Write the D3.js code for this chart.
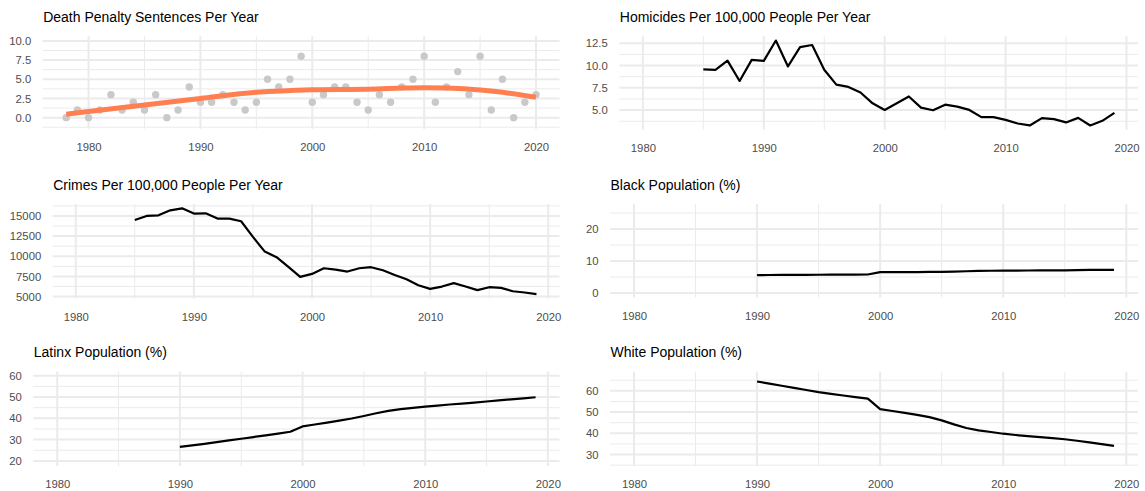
<!DOCTYPE html>
<html><head><meta charset="utf-8">
<script src="https://cdn.jsdelivr.net/npm/d3@7"></script>
<style>
body{margin:0;background:#fff}
svg{display:block;font-family:"Liberation Sans",Arial,Helvetica,sans-serif}
</style>
</head><body>
<svg id="chart" width="1145" height="491"></svg>
<script>
// ---------------- DATA ----------------
const xTicks = [1980, 1990, 2000, 2010, 2020];

const deathYears = [1978,1979,1980,1981,1982,1983,1984,1985,1986,1987,1988,1989,1990,1991,1992,1993,1994,1995,1996,1997,1998,1999,2000,2001,2002,2003,2004,2005,2006,2007,2008,2009,2010,2011,2012,2013,2014,2015,2016,2017,2018,2019,2020];
const deathSentences = [0,1,0,1,3,1,2,1,3,0,1,4,2,2,3,2,1,2,5,4,5,8,2,3,4,4,2,1,3,2,4,5,8,2,4,6,3,8,1,5,0,2,3];
const smoothYears = [1978,1980,1985,1990,1995,2000,2005,2008,2010,2012,2015,2017,2020];
const smoothValues = [0.45,0.8,1.65,2.5,3.3,3.65,3.7,3.85,3.9,3.85,3.6,3.3,2.65];
const deathTicks = [0, 2.5, 5, 7.5, 10];

const crimeYears = [1985,1986,1987,1988,1989,1990,1991,1992,1993,1994,1995,1996,1997,1998,1999,2000,2001,2002,2003,2004,2005,2006,2007,2008,2009,2010,2011,2012,2013,2014,2015,2016,2017,2018,2019];
const homicides = [9.56,9.52,10.55,8.27,10.63,10.52,12.8,9.9,12.07,12.3,9.52,7.86,7.6,6.97,5.76,5.02,5.76,6.53,5.28,4.98,5.61,5.39,5.02,4.21,4.21,3.91,3.5,3.28,4.1,3.99,3.62,4.13,3.28,3.8,4.69];
const homicideTicks = [5, 7.5, 10, 12.5];
const crimes = [14500,15000,15080,15700,15950,15290,15330,14670,14670,14340,12400,10580,9880,8680,7440,7810,8510,8340,8100,8510,8640,8260,7680,7150,6400,5950,6240,6660,6240,5790,6160,6080,5660,5500,5290];
const crimeTicks = [5000, 7500, 10000, 12500, 15000];

const popYears = [1990,1991,1992,1993,1994,1995,1996,1997,1998,1999,2000,2001,2002,2003,2004,2005,2006,2007,2008,2009,2010,2011,2012,2013,2014,2015,2016,2017,2018,2019];
const blackPct = [5.6,5.62,5.64,5.66,5.68,5.7,5.72,5.74,5.76,5.78,6.5,6.5,6.52,6.54,6.58,6.62,6.7,6.8,6.9,6.95,7.0,7.02,7.04,7.06,7.08,7.1,7.15,7.2,7.22,7.25];
const blackTicks = [0, 10, 20];
const latinxPct = [26.6,27.3,28.0,28.8,29.6,30.4,31.2,32.0,32.8,33.7,36.2,37.1,38.0,38.9,39.9,41.1,42.4,43.5,44.3,44.9,45.5,46.0,46.5,46.9,47.4,47.9,48.4,48.9,49.4,49.9];
const latinxTicks = [20, 30, 40, 50, 60];
const whitePct = [64.4,63.4,62.4,61.4,60.4,59.4,58.6,57.8,57.0,56.3,51.4,50.5,49.6,48.7,47.6,46.1,44.2,42.5,41.4,40.6,39.8,39.2,38.7,38.2,37.7,37.2,36.5,35.7,34.9,34.1];
const whiteTicks = [30, 40, 50, 60];

// ---------------- LAYOUT ----------------
const svg = d3.select("#chart");
svg.append("rect").attr("width",1145).attr("height",491).attr("fill","#fff");

const expand = (a, b) => { const p = (b - a) * 0.05; return [a - p, b + p]; };

const panels = [
  {title:"Death Penalty Sentences Per Year", box:[42.7,559.5,36.3,128.8], xLim:[1978,2020], yDom:[-1.45,10.6], ticks:deathTicks, fmt:d3.format(".1f"),
   points:{x:deathYears,y:deathSentences}, smooth:{x:smoothYears,y:smoothValues}},
  {title:"Homicides Per 100,000 People Per Year", box:[619.3,1138,36.3,129.7], xLim:[1980,2019], yDom:expand(d3.min(homicides), d3.max(homicides)), ticks:homicideTicks, fmt:d3.format(".1f"),
   line:{x:crimeYears,y:homicides}},
  {title:"Crimes Per 100,000 People Per Year", box:[52.7,559.5,204,298.5], xLim:[1980,2019], yDom:expand(d3.min(crimes), d3.max(crimes)), ticks:crimeTicks, fmt:d3.format("d"),
   line:{x:crimeYears,y:crimes}},
  {title:"Black Population (%)", box:[610,1138,204,297.5], xLim:[1980,2019], yDom:[-1.4,27.8], ticks:blackTicks, fmt:d3.format("d"),
   line:{x:popYears,y:blackPct}},
  {title:"Latinx Population (%)", box:[33.3,559.5,371.7,466], xLim:[1980,2019], yDom:[17.6,61.9], ticks:latinxTicks, fmt:d3.format("d"),
   line:{x:popYears,y:latinxPct}},
  {title:"White Population (%)", box:[610,1138,371.7,466], xLim:[1980,2019], yDom:[24.6,69], ticks:whiteTicks, fmt:d3.format("d"),
   line:{x:popYears,y:whitePct}}
];

const GRID = "#EBEBEB";

panels.forEach(p => {
  const [x0, x1, y0, y1] = p.box;
  const x = d3.scaleLinear().domain(expand(p.xLim[0], p.xLim[1])).range([x0, x1]);
  const y = d3.scaleLinear().domain(p.yDom).range([y1, y0]);
  const g = svg.append("g");

  // minor breaks
  const step = p.ticks[1] - p.ticks[0];
  const yMinor = [p.ticks[0] - step/2].concat(p.ticks.map(t => t + step/2))
      .filter(v => v >= p.yDom[0] && v <= p.yDom[1]);
  const xd = x.domain();
  const xMinor = [xTicks[0]-5].concat(xTicks.map(t => t + 5)).filter(v => v >= xd[0] && v <= xd[1]);

  g.selectAll(".ymin").data(yMinor).join("line")
    .attr("x1", x0).attr("x2", x1).attr("y1", d => y(d)).attr("y2", d => y(d))
    .attr("stroke", GRID).attr("stroke-width", 1);
  g.selectAll(".xmin").data(xMinor).join("line")
    .attr("y1", y0).attr("y2", y1).attr("x1", d => x(d)).attr("x2", d => x(d))
    .attr("stroke", GRID).attr("stroke-width", 1);
  g.selectAll(".ymaj").data(p.ticks).join("line")
    .attr("x1", x0).attr("x2", x1).attr("y1", d => y(d)).attr("y2", d => y(d))
    .attr("stroke", GRID).attr("stroke-width", 2);
  g.selectAll(".xmaj").data(xTicks.filter(v => v >= xd[0] && v <= xd[1])).join("line")
    .attr("y1", y0).attr("y2", y1).attr("x1", d => x(d)).attr("x2", d => x(d))
    .attr("stroke", GRID).attr("stroke-width", 2);

  // axes
  const ay = g.append("g").attr("transform", `translate(${x0},0)`)
    .call(d3.axisLeft(y).tickValues(p.ticks).tickSize(0).tickPadding(11.5).tickFormat(p.fmt));
  const ax = g.append("g").attr("transform", `translate(0,${y1})`)
    .call(d3.axisBottom(x).tickValues(xTicks).tickSize(0).tickPadding(14).tickFormat(d3.format("d")));
  [ay, ax].forEach(a => {
    a.select(".domain").remove();
    a.selectAll("text").attr("fill", "#4D4D4D").style("font-size", "11.3px")
      .style("font-family", '"Liberation Sans",Arial,Helvetica,sans-serif');
  });

  // title
  g.append("text").attr("x", x0 + 0.5).attr("y", y0 - 14.3)
    .attr("fill", "#000").style("font-size", "14px").text(p.title);

  // marks
  if (p.points) {
    g.selectAll(".pt").data(p.points.x.map((v,i) => [v, p.points.y[i]])).join("circle")
      .attr("cx", d => x(d[0])).attr("cy", d => y(d[1])).attr("r", 3.7)
      .attr("fill", "#C9C9C9");
  }
  if (p.smooth) {
    g.append("path").datum(p.smooth.x.map((v,i) => [v, p.smooth.y[i]]))
      .attr("d", d3.line().x(d => x(d[0])).y(d => y(d[1])).curve(d3.curveCatmullRom))
      .attr("fill", "none").attr("stroke", "#FF7F50").attr("stroke-width", 5)
      .attr("stroke-linecap", "butt");
  }
  if (p.line) {
    g.append("path").datum(p.line.x.map((v,i) => [v, p.line.y[i]]))
      .attr("d", d3.line().x(d => x(d[0])).y(d => y(d[1])))
      .attr("fill", "none").attr("stroke", "#000").attr("stroke-width", 2.2)
      .attr("stroke-linejoin", "round");
  }
});
</script>
</body></html>
